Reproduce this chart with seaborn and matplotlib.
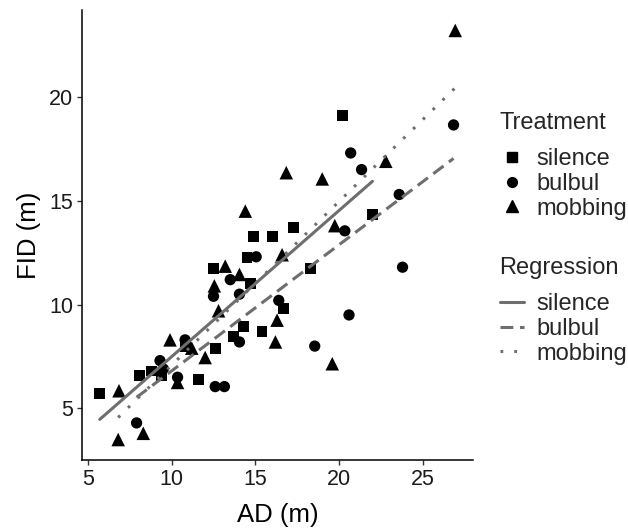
import matplotlib
matplotlib.use("Agg")
import matplotlib.pyplot as plt
from matplotlib.lines import Line2D
import seaborn as sns
import numpy as np
import pandas as pd

# ---- data ----
silence_ad = [5.7, 8.1, 8.8, 9.4, 10.8, 11.6, 12.6, 13.7, 14.3, 15.4, 16.7, 14.7,
              12.5, 14.5, 14.9, 16.0, 17.3, 18.3, 22.0, 20.2]
silence_fid = [5.7, 6.6, 6.8, 6.6, 8.0, 6.4, 7.9, 8.45, 8.95, 8.7, 9.8, 11.0,
               11.75, 12.25, 13.3, 13.3, 13.7, 11.75, 14.35, 19.1]

bulbul_ad = [7.9, 9.3, 9.5, 10.35, 10.8, 12.6, 13.15, 14.05, 12.5, 14.05, 13.5,
             15.05, 16.4, 18.55, 20.6, 20.35, 21.35, 20.7, 23.6, 23.8, 26.85]
bulbul_fid = [4.3, 7.3, 6.9, 6.5, 8.3, 6.05, 6.05, 8.2, 10.4, 10.5, 11.2,
              12.3, 10.2, 8.0, 9.5, 13.55, 16.5, 17.3, 15.3, 11.8, 18.65]

mobbing_ad = [6.85, 6.8, 8.3, 9.9, 10.35, 11.2, 12.0, 12.8, 12.55, 13.2, 14.05,
              14.4, 16.6, 16.3, 16.2, 16.85, 19.0, 19.75, 19.6, 22.8, 26.95]
mobbing_fid = [5.85, 3.5, 3.8, 8.3, 6.25, 7.9, 7.45, 9.7, 10.9, 11.85, 11.45,
               14.5, 12.4, 9.25, 8.2, 16.35, 16.05, 13.8, 7.15, 16.9, 23.2]

treatments = ["silence", "bulbul", "mobbing"]
x_ticks = [5, 10, 15, 20, 25]
y_ticks = [5, 10, 15, 20]

df = pd.concat([
    pd.DataFrame({"AD": silence_ad, "FID": silence_fid, "Treatment": "silence"}),
    pd.DataFrame({"AD": bulbul_ad, "FID": bulbul_fid, "Treatment": "bulbul"}),
    pd.DataFrame({"AD": mobbing_ad, "FID": mobbing_fid, "Treatment": "mobbing"}),
], ignore_index=True)

# ---- style ----
sns.set_theme(style="ticks")
plt.rcParams["font.family"] = ["Liberation Sans", "DejaVu Sans"]

markers = {"silence": "s", "bulbul": "o", "mobbing": "^"}
msizes = {"silence": 62, "bulbul": 66, "mobbing": 95}
lstyles = {"silence": "-", "bulbul": (0, (4.2, 2.2)), "mobbing": (0, (0.9, 3.6))}
line_color = "#6e6e6e"

fig = plt.figure(figsize=(6.28, 5.28), dpi=100)
ax = fig.add_axes([82 / 628, 68 / 528, (473 - 82) / 628, (460 - 10) / 528])

for t in treatments:
    sub = df[df["Treatment"] == t]
    sns.scatterplot(data=sub, x="AD", y="FID", marker=markers[t], s=msizes[t],
                    color="black", edgecolor="none", linewidth=0, ax=ax,
                    legend=False, zorder=2)
for t in treatments:
    sub = df[df["Treatment"] == t]
    sns.regplot(data=sub, x="AD", y="FID", scatter=False, ci=None, truncate=True,
                ax=ax, color=line_color,
                line_kws={"linestyle": lstyles[t], "linewidth": 2.2, "zorder": 3})

# limits with ggplot-like 5% expansion
xmin, xmax = df["AD"].min(), df["AD"].max()
ymin, ymax = df["FID"].min(), df["FID"].max()
xr, yr = xmax - xmin, ymax - ymin
ax.set_xlim(xmin - 0.05 * xr, xmax + 0.05 * xr)
ax.set_ylim(ymin - 0.05 * yr, ymax + 0.05 * yr)
ax.set_xticks(x_ticks)
ax.set_yticks(y_ticks)

sns.despine(ax=ax)
for sp in ("left", "bottom"):
    ax.spines[sp].set_linewidth(1.1)
    ax.spines[sp].set_color("black")
ax.tick_params(axis="both", length=3.5, width=1.0, color="#333333",
               labelsize=15.5, labelcolor="#1a1a1a", pad=3)
ax.set_xlabel("AD (m)", fontsize=18.5, color="black", labelpad=9)
ax.set_ylabel("FID (m)", fontsize=18.5, color="black", labelpad=6)

# ---- legends ----
def make_legend(handles, title, top_px):
    leg = fig.legend(handles, treatments, title=title, loc="upper left",
                     bbox_to_anchor=(499.5 / 628, 1 - top_px / 528),
                     frameon=False, fontsize=17, title_fontsize=17,
                     handlelength=1.05, handletextpad=0.5, labelspacing=0.11,
                     borderpad=0, borderaxespad=0, alignment="left")
    leg._legend_box.sep = 10.4
    return leg

h1 = [Line2D([], [], linestyle="none", marker=markers[t], color="black",
             markersize={"silence": 6.5, "bulbul": 7, "mobbing": 8.5}[t])
      for t in treatments]
make_legend(h1, "Treatment", 112)
h2 = [Line2D([], [], color=line_color, linestyle=lstyles[t], linewidth=2.2)
      for t in treatments]
make_legend(h2, "Regression", 257)

fig.savefig("out.png", dpi=100)
